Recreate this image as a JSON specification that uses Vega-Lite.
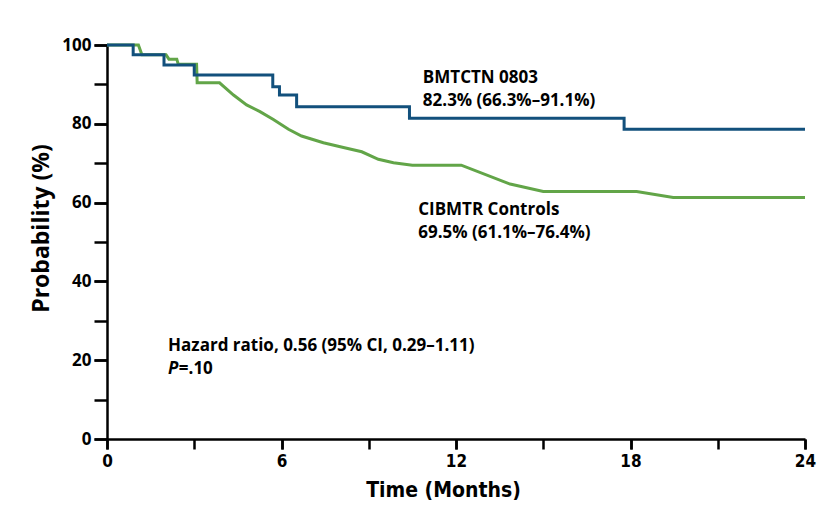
{
  "$schema": "https://vega.github.io/schema/vega-lite/v6.json",
  "autosize": "none",
  "width": 698,
  "height": 394,
  "padding": {"left": 107, "top": 45, "right": 30, "bottom": 80},
  "background": "white",
  "config": {"view": {"stroke": null}},
  "datasets": {
    "curves": [
      {"series": "BMTCTN 0803", "month": 0, "pct": 100},
      {"series": "BMTCTN 0803", "month": 0.9, "pct": 97.5},
      {"series": "BMTCTN 0803", "month": 1.96, "pct": 94.9},
      {"series": "BMTCTN 0803", "month": 3.0, "pct": 92.4},
      {"series": "BMTCTN 0803", "month": 5.7, "pct": 89.4},
      {"series": "BMTCTN 0803", "month": 5.93, "pct": 87.3},
      {"series": "BMTCTN 0803", "month": 6.52, "pct": 84.3},
      {"series": "BMTCTN 0803", "month": 10.4, "pct": 81.4},
      {"series": "BMTCTN 0803", "month": 17.78, "pct": 78.6},
      {"series": "BMTCTN 0803", "month": 24, "pct": 78.6},
      {"series": "CIBMTR Controls", "month": 0, "pct": 100},
      {"series": "CIBMTR Controls", "month": 1.08, "pct": 100},
      {"series": "CIBMTR Controls", "month": 1.2, "pct": 97.5},
      {"series": "CIBMTR Controls", "month": 2.03, "pct": 97.5},
      {"series": "CIBMTR Controls", "month": 2.13, "pct": 96.4},
      {"series": "CIBMTR Controls", "month": 2.4, "pct": 96.4},
      {"series": "CIBMTR Controls", "month": 2.45, "pct": 95.1},
      {"series": "CIBMTR Controls", "month": 3.08, "pct": 95.1},
      {"series": "CIBMTR Controls", "month": 3.1, "pct": 90.4},
      {"series": "CIBMTR Controls", "month": 3.87, "pct": 90.4},
      {"series": "CIBMTR Controls", "month": 4.35, "pct": 87.3},
      {"series": "CIBMTR Controls", "month": 4.8, "pct": 84.8},
      {"series": "CIBMTR Controls", "month": 5.26, "pct": 83.1},
      {"series": "CIBMTR Controls", "month": 5.72, "pct": 81.1},
      {"series": "CIBMTR Controls", "month": 6.24, "pct": 78.6},
      {"series": "CIBMTR Controls", "month": 6.69, "pct": 76.9},
      {"series": "CIBMTR Controls", "month": 7.44, "pct": 75.2},
      {"series": "CIBMTR Controls", "month": 8.13, "pct": 74.0},
      {"series": "CIBMTR Controls", "month": 8.76, "pct": 72.9},
      {"series": "CIBMTR Controls", "month": 9.33, "pct": 71.0},
      {"series": "CIBMTR Controls", "month": 9.85, "pct": 70.1},
      {"series": "CIBMTR Controls", "month": 10.5, "pct": 69.5},
      {"series": "CIBMTR Controls", "month": 12.18, "pct": 69.5},
      {"series": "CIBMTR Controls", "month": 13.86, "pct": 64.7},
      {"series": "CIBMTR Controls", "month": 15.0, "pct": 62.8},
      {"series": "CIBMTR Controls", "month": 18.21, "pct": 62.8},
      {"series": "CIBMTR Controls", "month": 19.47, "pct": 61.3},
      {"series": "CIBMTR Controls", "month": 24, "pct": 61.3}
    ],
    "labels": [
      {"month": 10.86, "pct": 90.4, "label": "BMTCTN 0803"},
      {"month": 10.86, "pct": 84.4, "label": "82.3% (66.3%–91.1%)"},
      {"month": 10.7, "pct": 56.9, "label": "CIBMTR Controls"},
      {"month": 10.7, "pct": 50.9, "label": "69.5% (61.1%–76.4%)"},
      {"month": 2.1, "pct": 22.3, "label": "Hazard ratio, 0.56 (95% CI, 0.29–1.11)"},
      {"month": 2.47, "pct": 16.5, "label": "=.10"}
    ],
    "italic": [
      {"month": 2.1, "pct": 16.5, "label": "P"}
    ],
    "minor": [
      {"month": 0, "pct": 0}
    ]
  },
  "resolve": {"axis": {"y": "independent", "x": "independent"}},
  "layer": [
    {
      "data": {"name": "minor"},
      "mark": {"type": "point", "opacity": 0},
      "encoding": {
        "x": {
          "field": "month", "type": "quantitative",
          "scale": {"domain": [0, 24], "nice": false},
          "axis": {
            "orient": "bottom",
            "values": [0, 3, 6, 9, 12, 15, 18, 21, 24],
            "labels": false, "domain": false, "grid": false, "title": null,
            "tickColor": "black", "tickWidth": 2.5, "tickSize": 10
          }
        },
        "y": {
          "field": "pct", "type": "quantitative",
          "scale": {"domain": [0, 100], "nice": false},
          "axis": {
            "orient": "left",
            "values": [0, 10, 20, 30, 40, 50, 60, 70, 80, 90, 100],
            "labels": false, "domain": false, "grid": false, "title": null,
            "tickColor": "black", "tickWidth": 2.5, "tickSize": 13
          }
        }
      }
    },
    {
      "data": {"name": "curves"},
      "transform": [{"filter": "datum.series === 'CIBMTR Controls'"}],
      "mark": {"type": "line", "strokeWidth": 3, "interpolate": "linear", "clip": false},
      "encoding": {
        "x": {
          "field": "month", "type": "quantitative",
          "scale": {"domain": [0, 24], "nice": false},
          "axis": {
            "orient": "bottom",
            "values": [0, 6, 12, 18, 24],
            "grid": false,
            "labelFlush": false,
            "domainColor": "black", "domainWidth": 2.5,
            "tickColor": "black", "tickWidth": 2.5, "tickSize": 10,
            "labelFont": "Liberation Sans Narrow, DejaVu Sans Condensed, Open Sans",
            "labelFontWeight": "bold", "labelFontSize": 17, "labelColor": "black",
            "labelPadding": 4,
            "title": "Time (Months)",
            "titleFont": "Liberation Sans Narrow, DejaVu Sans Condensed, Open Sans",
            "titleFontWeight": "bold", "titleFontSize": 21, "titleColor": "black",
            "titlePadding": 10,
            "titleX": 336
          }
        },
        "y": {
          "field": "pct", "type": "quantitative",
          "scale": {"domain": [0, 100], "nice": false},
          "axis": {
            "orient": "left",
            "values": [0, 20, 40, 60, 80, 100],
            "grid": false,
            "labelFlush": false,
            "domainColor": "black", "domainWidth": 2.5,
            "tickColor": "black", "tickWidth": 2.5, "tickSize": 13,
            "labelFont": "Open Sans",
            "labelFontWeight": "bold", "labelFontSize": 17, "labelColor": "black",
            "labelPadding": 3,
            "title": "Probability (%)",
            "titleFont": "Open Sans",
            "titleFontWeight": "bold", "titleFontSize": 23, "titleColor": "black",
            "titlePadding": 8,
            "titleY": 183
          }
        },
        "color": {
          "field": "series", "type": "nominal",
          "scale": {"domain": ["BMTCTN 0803", "CIBMTR Controls"], "range": ["#12507c", "#62a548"]},
          "legend": null
        }
      }
    },
    {
      "data": {"name": "curves"},
      "transform": [{"filter": "datum.series === 'BMTCTN 0803'"}],
      "mark": {"type": "line", "strokeWidth": 3, "interpolate": "step-after", "clip": false},
      "encoding": {
        "x": {"field": "month", "type": "quantitative", "axis": null},
        "y": {"field": "pct", "type": "quantitative", "axis": null},
        "color": {"field": "series", "type": "nominal", "legend": null}
      }
    },
    {
      "data": {"name": "labels"},
      "mark": {"type": "text", "align": "left", "baseline": "alphabetic", "font": "Open Sans", "fontWeight": "bold", "fontSize": 17, "color": "black"},
      "encoding": {
        "x": {"field": "month", "type": "quantitative", "axis": null},
        "y": {"field": "pct", "type": "quantitative", "axis": null},
        "text": {"field": "label"}
      }
    },
    {
      "data": {"name": "italic"},
      "mark": {"type": "text", "align": "left", "baseline": "alphabetic", "font": "Open Sans", "fontWeight": "bold", "fontStyle": "italic", "fontSize": 17, "color": "black"},
      "encoding": {
        "x": {"field": "month", "type": "quantitative", "axis": null},
        "y": {"field": "pct", "type": "quantitative", "axis": null},
        "text": {"field": "label"}
      }
    }
  ]
}
